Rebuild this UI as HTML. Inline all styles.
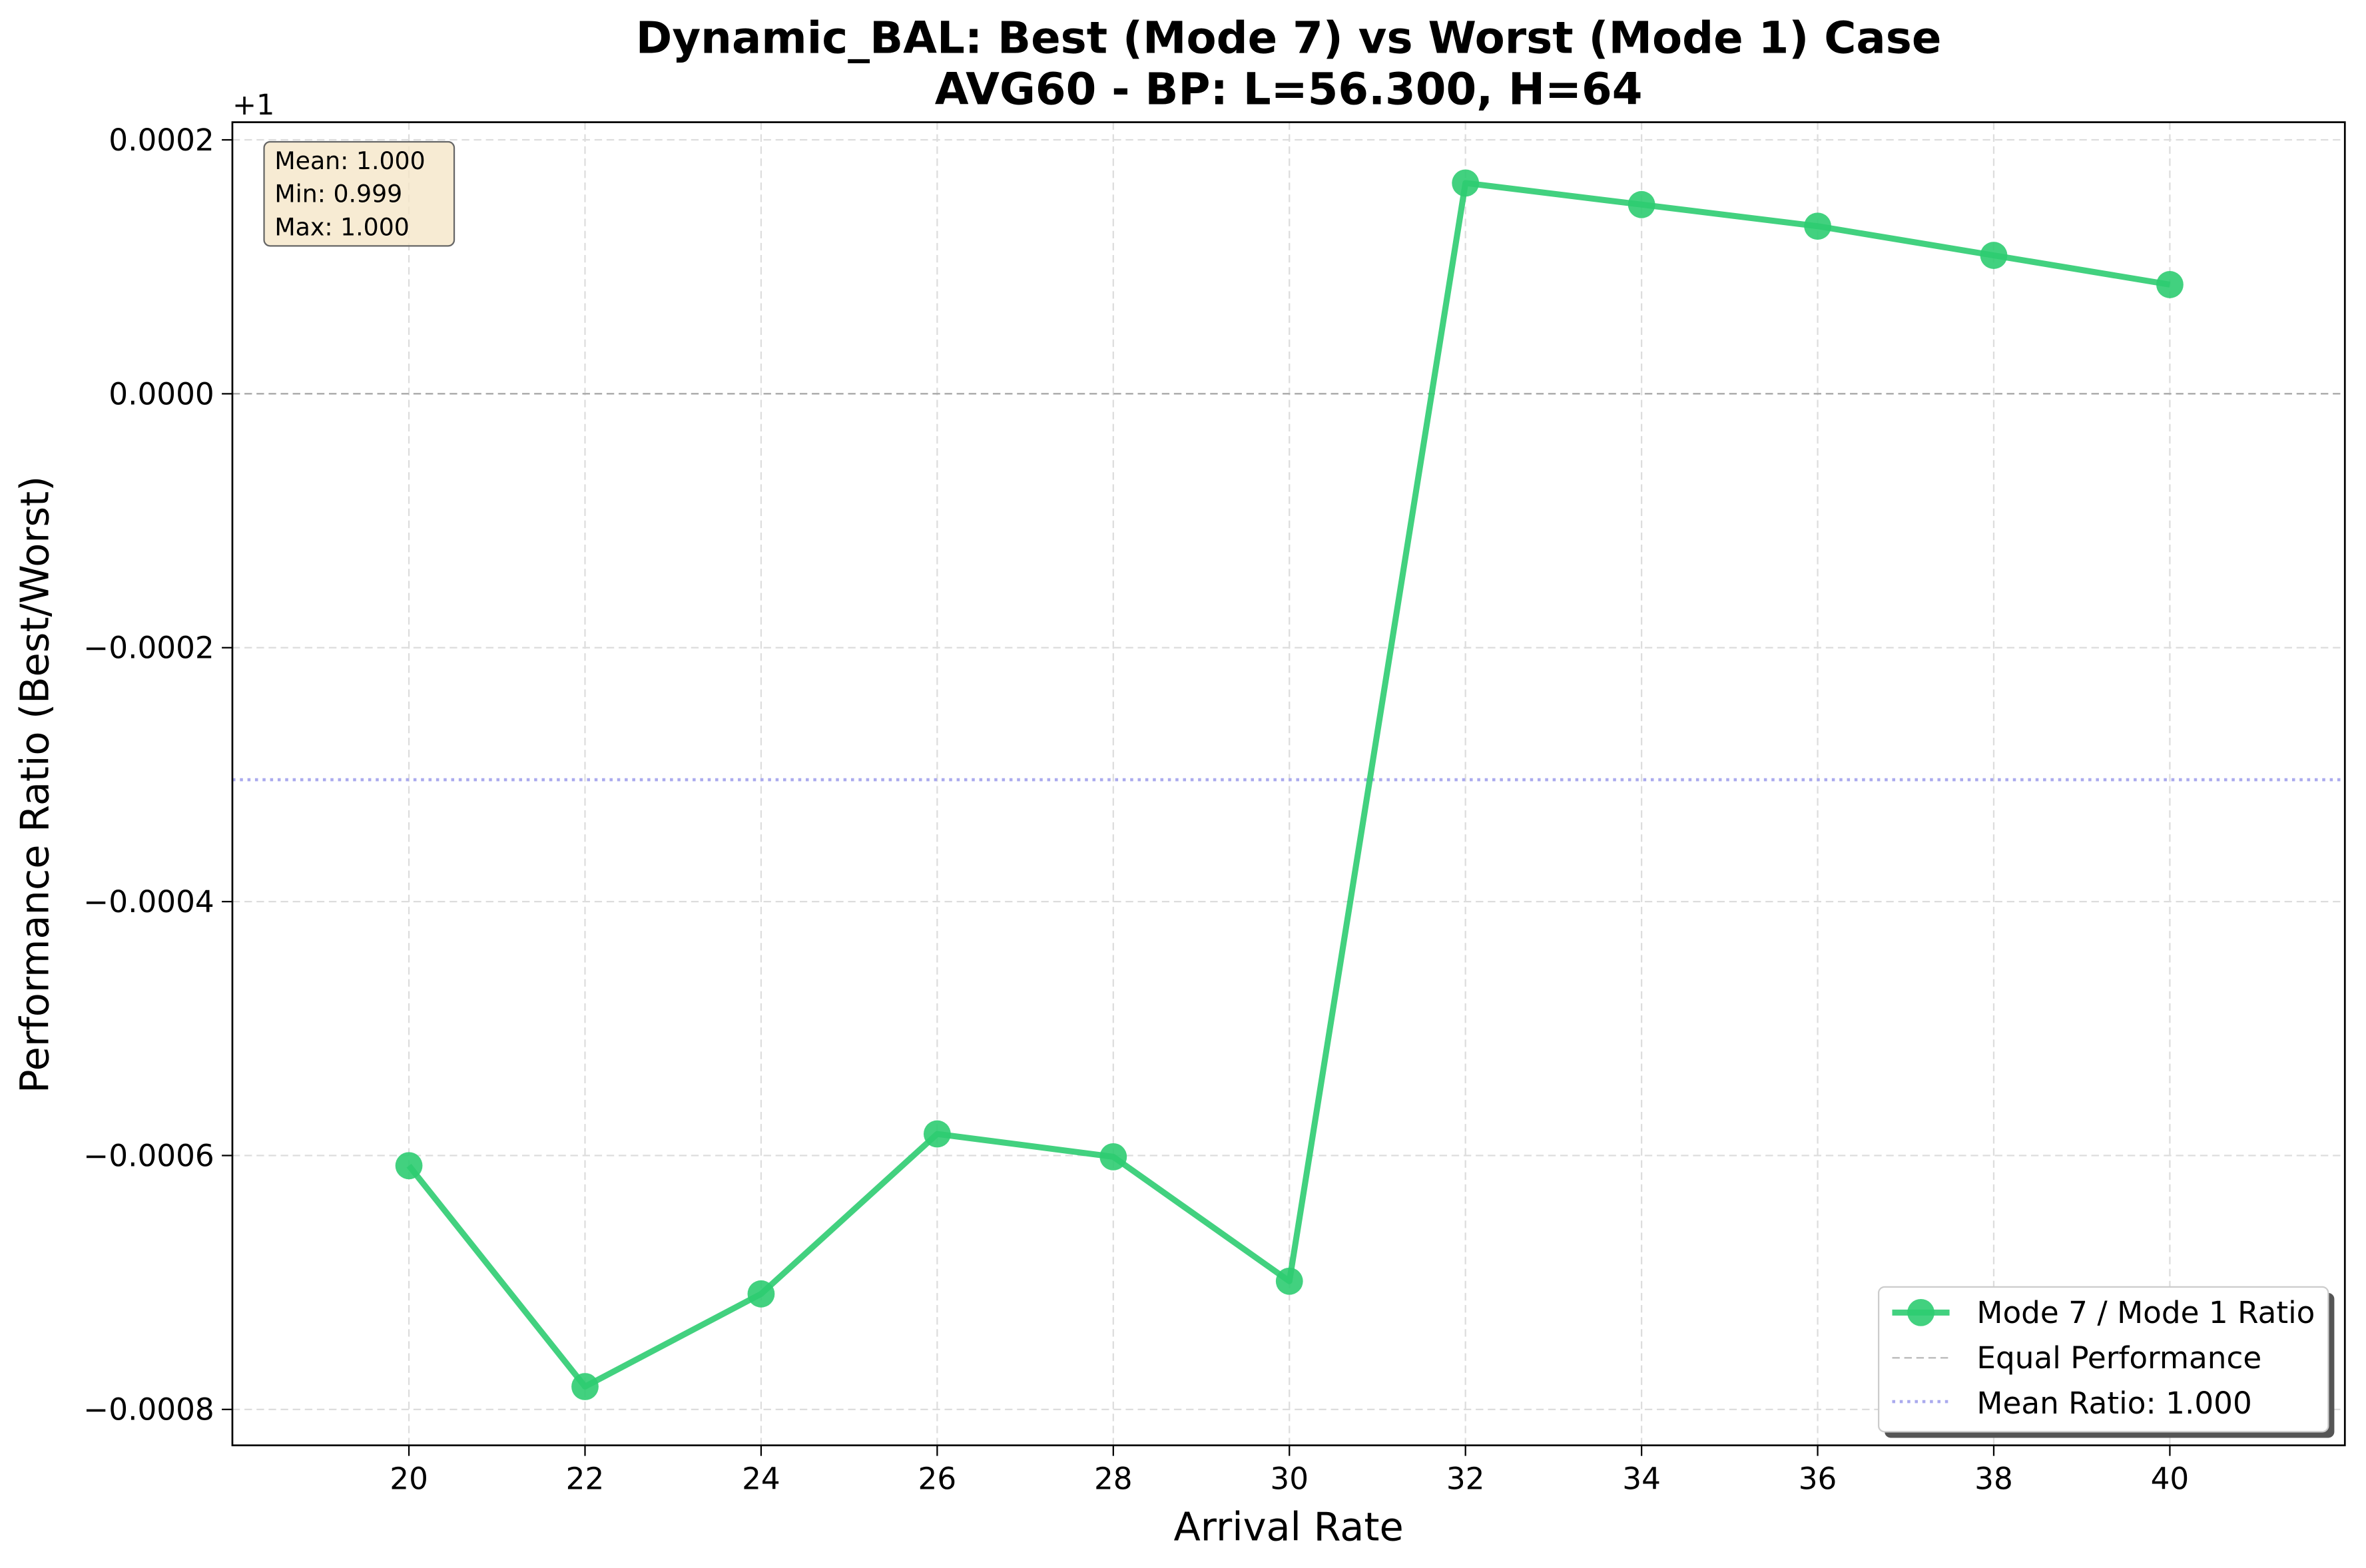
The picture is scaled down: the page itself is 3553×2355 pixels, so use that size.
<!DOCTYPE html>
<html><head><meta charset="utf-8"><style>
html,body{margin:0;padding:0;background:#fff;}
svg{display:block;font-family:"DejaVu Sans","Liberation Sans",sans-serif;}
</style></head><body>
<svg id="chart" width="3553" height="2355" viewBox="0 0 1568 1039.3" preserveAspectRatio="none" xmlns="http://www.w3.org/2000/svg">
<rect x="0" y="0" width="1568" height="1040" fill="#fff"/>
<text x="854" y="35" text-anchor="middle" font-size="29" font-weight="bold">Dynamic_BAL: Best (Mode 7) vs Worst (Mode 1) Case</text>
<text x="854" y="69" text-anchor="middle" font-size="29" font-weight="bold">AVG60 - BP: L=56.300, H=64</text>
<g id="grid"></g>
<g id="ref"></g>
<g id="series"></g>
<rect x="154" y="81" width="1400" height="877" fill="none" stroke="#000" stroke-width="1.2"/>
<g id="axes"></g>
<text x="154" y="76" font-size="19">+1</text>
<text x="854" y="1021" text-anchor="middle" font-size="26">Arrival Rate</text>
<text transform="translate(32,520) rotate(-90)" text-anchor="middle" font-size="26">Performance Ratio (Best/Worst)</text>
<g>
<rect x="175" y="94" width="126" height="69" rx="4" fill="#f5e6c8" fill-opacity="0.8" stroke="#666"/>
<text x="182" y="112" font-size="16">Mean: 1.000</text>
<text x="182" y="134" font-size="16">Min: 0.999</text>
<text x="182" y="156" font-size="16">Max: 1.000</text>
</g>
<g>
<rect x="1249" y="857" width="298" height="96" rx="4" fill="#555"/>
<rect x="1245" y="853" width="298" height="96" rx="4" fill="#fff" stroke="#ccc"/>
<line x1="1254" y1="870" x2="1292" y2="870" stroke="#2ecc71" stroke-opacity="0.9" stroke-width="4"/>
<circle cx="1273" cy="870" r="9" fill="#2ecc71" fill-opacity="0.9"/>
<text x="1310" y="877" font-size="20">Mode 7 / Mode 1 Ratio</text>
<line x1="1254" y1="900" x2="1292" y2="900" stroke="#999" stroke-opacity="0.7" stroke-dasharray="5,3"/>
<text x="1310" y="907" font-size="20">Equal Performance</text>
<line x1="1254" y1="929" x2="1292" y2="929" stroke="#aaaaee" stroke-width="2" stroke-dasharray="2,3"/>
<text x="1310" y="937" font-size="20">Mean Ratio: 1.000</text>
</g>
<script>
const categories=[20,22,24,26,28,30,32,34,36,38,40];
const ratioOffsetE4=[-6.08,-7.82,-7.09,-5.83,-6.01,-6.99,1.66,1.49,1.32,1.09,0.86];
const meanOffsetE4=[-3.04];
const xTicks=[20,22,24,26,28,30,32,34,36,38,40];
const yTicks=[2,0,-2,-4,-6,-8];
const yTickLabels=["0.0002","0.0000","\u22120.0002","\u22120.0004","\u22120.0006","\u22120.0008"];
const NS="http://www.w3.org/2000/svg";
const X=v=>271+(v-20)*58.35;
const Y=v=>261-v*84.15;
function mk(t,a,p){const e=document.createElementNS(NS,t);for(const k in a)e.setAttribute(k,a[k]);p.appendChild(e);return e;}
const grid=document.getElementById('grid'),axes=document.getElementById('axes');
xTicks.forEach(t=>{
 const g=mk('line',{x1:X(t),x2:X(t),y1:81,y2:958,stroke:'#ddd','stroke-dasharray':'5,3'},grid);
 
 
 const tk=mk('line',{x1:X(t),x2:X(t),y1:958,y2:965,stroke:'#000'},axes);
 
 
 const l=mk('text',{x:X(t),y:987,'text-anchor':'middle','font-size':20},axes);l.textContent=t;
 
 
});
yTicks.forEach((t,i)=>{
 const g=mk('line',{x1:154,x2:1554,y1:Y(t),y2:Y(t),stroke:'#ddd','stroke-dasharray':'5,3'},grid);
 
 
 const tk=mk('line',{x1:147,x2:154,y1:Y(t),y2:Y(t),stroke:'#000'},axes);
 
 
 const l=mk('text',{x:142,y:Y(t)+7,'text-anchor':'end','font-size':20},axes);l.textContent=yTickLabels[i];
 
 
});
const ref=document.getElementById('ref');
const eq=mk('line',{x1:154,x2:1554,y1:Y(0),y2:Y(0),stroke:'#999','stroke-opacity':0.8,'stroke-dasharray':'5,3'},ref);


const mn=mk('line',{x1:154,x2:1554,y1:Y(meanOffsetE4[0]),y2:Y(meanOffsetE4[0]),stroke:'#aaaaee','stroke-width':2,'stroke-dasharray':'2,3'},ref);


const s=document.getElementById('series');
const pl=mk('polyline',{points:categories.map((c,i)=>X(c)+','+Y(ratioOffsetE4[i])).join(' '),fill:'none',stroke:'#2ecc71','stroke-opacity':0.9,'stroke-width':4,'stroke-linejoin':'round'},s);


categories.forEach((c,i)=>{
 const p=mk('circle',{cx:X(c),cy:Y(ratioOffsetE4[i]),r:9,fill:'#2ecc71','fill-opacity':0.9},s);
 
 
});
</script>
</svg>
</body></html>
